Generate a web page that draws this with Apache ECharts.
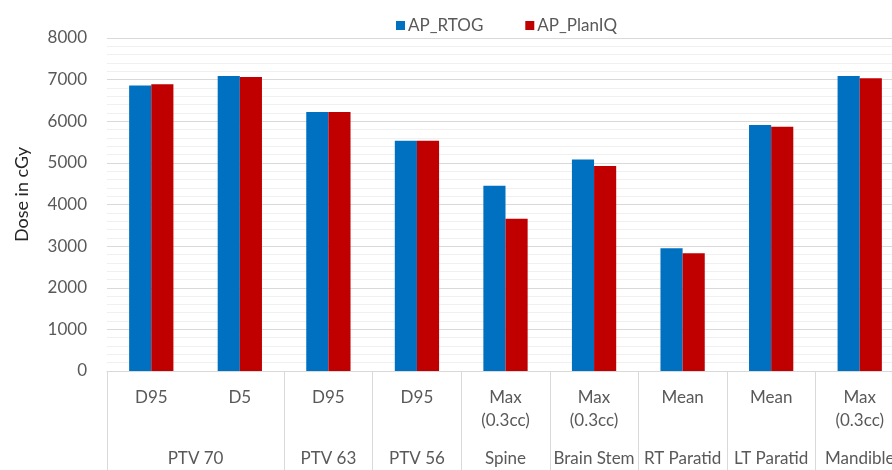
<!DOCTYPE html>
<html>
<head>
<meta charset="utf-8">
<script src="https://cdn.jsdelivr.net/npm/echarts@6/dist/echarts.min.js"></script>
<style>
  html, body { margin: 0; padding: 0; background: #ffffff; }
  #chart { width: 892px; height: 470px; }
</style>
</head>
<body>
<div id="chart"></div>
<script>
// Dose metrics per structure (first axis level) and the structure groups (second level)
const metrics = ['D95', 'D5', 'D95', 'D95', 'Max\n(0.3cc)', 'Max\n(0.3cc)', 'Mean', 'Mean', 'Max\n(0.3cc)'];
const structures = ['PTV 70', 'PTV 63', 'PTV 56', 'Spine', 'Brain Stem', 'RT Paratid', 'LT Paratid', 'Mandible'];
// Index of the first category each structure covers, and how many it spans
const structureStart = [0, 2, 3, 4, 5, 6, 7, 8];
const structureSpan = [2, 1, 1, 1, 1, 1, 1, 1];

const apRTOG = [6860, 7090, 6220, 5530, 4450, 5080, 2950, 5910, 7090];
const apPlanIQ = [6890, 7065, 6220, 5530, 3655, 4925, 2830, 5865, 7035];

const yTicks = { min: 0, max: 8000, interval: 1000 };

const FONT = 'Lato';
const TEXT = '#595959';
const LINE = '#d9d9d9';

// Second-level axis: 2 * n + 1 points at category boundaries and centres
const groupSlots = new Array(metrics.length * 2 + 1).fill('');
structures.forEach((s, k) => {
  groupSlots[structureStart[k] * 2 + structureSpan[k]] = s;
});

// Separators only where a structure group begins
const groupBoundary = new Set(structureStart);

const chart = echarts.init(document.getElementById('chart'), null, { renderer: 'canvas' });
chart.setOption({
  backgroundColor: '#ffffff',
  animation: false,
  textStyle: { fontFamily: FONT },
  legend: {
    top: 12,
    left: 391,
    itemWidth: 9,
    itemHeight: 9,
    itemGap: 42,
    icon: 'rect',
    textStyle: { color: TEXT, fontSize: 17, fontFamily: FONT, padding: [0, 0, 0, -2] },
    data: ['AP_RTOG', 'AP_PlanIQ']
  },
  grid: { left: 107, width: 797, top: 38, bottom: 99, containLabel: false, outerBoundsMode: 'none' },
  xAxis: [
    {
      type: 'category',
      data: metrics,
      boundaryGap: true,
      axisLine: { show: true, lineStyle: { color: LINE, width: 1 } },
      axisTick: {
        show: true,
        length: 100,
        interval: (i) => groupBoundary.has(i),
        lineStyle: { color: LINE, width: 1 }
      },
      axisLabel: {
        interval: 0,
        color: TEXT,
        fontSize: 17,
        fontFamily: FONT,
        margin: 15,
        lineHeight: 23,
        verticalAlign: 'top'
      }
    },
    {
      type: 'category',
      data: groupSlots,
      boundaryGap: false,
      position: 'bottom',
      axisLine: { show: false },
      axisTick: { show: false },
      axisLabel: {
        interval: 0,
        color: TEXT,
        fontSize: 17,
        fontFamily: FONT,
        margin: 79,
        verticalAlign: 'top'
      }
    }
  ],
  yAxis: {
    type: 'value',
    min: yTicks.min,
    max: yTicks.max,
    interval: yTicks.interval,
    name: 'Dose in cGy',
    nameLocation: 'middle',
    nameGap: 76,
    nameTextStyle: { color: '#262626', fontSize: 18, fontFamily: FONT, padding: [0, 0, 0, 20] },
    axisLine: { show: false },
    axisTick: { show: false },
    axisLabel: { color: TEXT, fontSize: 17, fontFamily: FONT, margin: 20, formatter: (v) => String(v) },
    splitLine: { show: true, lineStyle: { color: LINE, width: 1 } },
    minorTick: { show: false, splitNumber: 5 },
    minorSplitLine: { show: true, lineStyle: { color: '#f0f0f0', width: 1 } }
  },
  series: [
    {
      name: 'AP_RTOG',
      type: 'bar',
      data: apRTOG,
      barGap: '0%',
      barCategoryGap: '50%',
      itemStyle: { color: '#0070C0' }
    },
    {
      name: 'AP_PlanIQ',
      type: 'bar',
      data: apPlanIQ,
      barGap: '0%',
      barCategoryGap: '50%',
      itemStyle: { color: '#C00000' }
    }
  ]
});
</script>
</body>
</html>
